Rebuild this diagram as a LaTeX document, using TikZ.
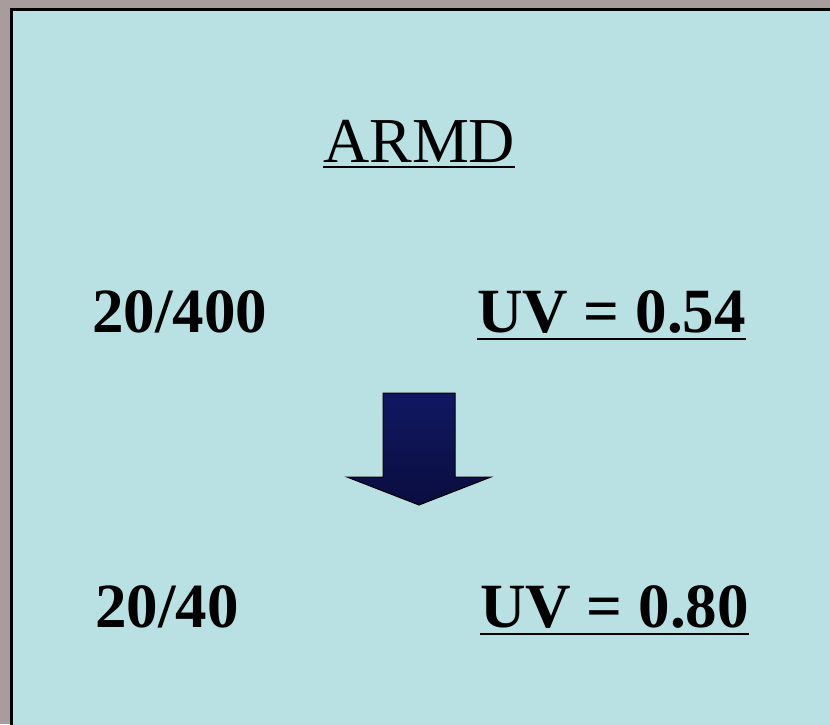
\documentclass[tikz,border=0pt]{standalone}
\usepackage{fontspec}
\setmainfont{Liberation Serif}
\definecolor{outbg}{HTML}{A89C9C}
\definecolor{panel}{HTML}{B9E0E3}
\definecolor{arrtop}{HTML}{111862}
\definecolor{arrbot}{HTML}{0A0D3E}
\begin{document}
\begin{tikzpicture}[x=1pt,y=-1pt,
  big/.style={inner sep=0pt,anchor=base west,font=\fontsize{63}{70}\selectfont\bfseries},
  title/.style={inner sep=0pt,anchor=base west,font=\fontsize{64}{70}\selectfont},
  uline/.style={line width=2.6pt}]
\useasboundingbox (0,0) rectangle (830,724);
\fill[outbg] (0,0) rectangle (830,724);
\fill[panel,draw=black,line width=3pt] (11,9) rectangle (840,740);
\node[title] (armd) at (323,162) {ARMD};
\draw[uline] ([yshift=-5]armd.base west) -- ([yshift=-5]armd.base east);
\node[big] (a1) at (92,332) {20/400};
\node[big] (b1) at (477,332) {UV = 0.54};
\draw[uline] ([yshift=-7]b1.base west) -- ([yshift=-7]b1.base east);
\node[big] (a2) at (95,627) {20/40};
\node[big] (b2) at (480,627) {UV = 0.80};
\draw[uline] ([yshift=-7]b2.base west) -- ([yshift=-7]b2.base east);
\shade[top color=arrtop,bottom color=arrbot,draw=black,line width=1pt,line join=miter]
  (383,393) -- (455,393) -- (455,477) -- (491,477) -- (419,505) -- (347,477) -- (383,477) -- cycle;
\end{tikzpicture}
\end{document}
